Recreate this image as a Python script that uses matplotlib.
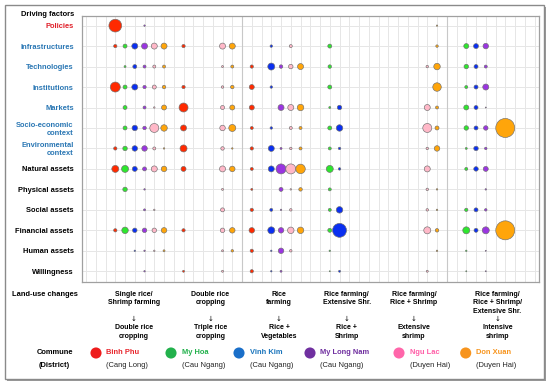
import numpy as np
import matplotlib
matplotlib.use("Agg")
from matplotlib import pyplot as plt
from matplotlib.patches import Rectangle

# driving factors (rows) and land-use changes (column groups)
factors = ["Policies", "Infrastructures", "Technologies", "Institutions", "Markets",
           "Socio-economic\ncontext", "Environmental\ncontext", "Natural assets",
           "Physical assets", "Social assets", "Financial assets", "Human assets",
           "Willingness"]
n_blue_factors = 6  # Infrastructures .. Environmental context drawn in blue

changes_from = ["Single rice/\nShrimp farming", "Double rice\ncropping", "Rice\nfarming",
                "Rice farming/\nExtensive Shr.", "Rice farming/\nRice + Shrimp",
                "Rice farming/\nRice + Shrimp/\nExtensive Shr."]
changes_to = ["Double rice\ncropping", "Triple rice\ncropping", "Rice +\nVegetables",
              "Rice +\nShrimp", "Extensive\nshrimp", "Intensive\nshrimp"]

communes = ["Binh Phu", "My Hoa", "Vinh Kim", "My Long Nam", "Ngu Lac", "Don Xuan"]
districts = ["(Cang Long)", "(Cau Ngang)", "(Cau Ngang)", "(Cau Ngang)", "(Duyen Hai)", "(Duyen Hai)"]

# share of mentions (%), rows = factors, cols = land-use changes 1..6
binh_phu = [
    [45, 0, 0, 0, 0, 0],
    [3, 3, 0, 0, 0, 0],
    [0, 0, 3, 0, 0, 0],
    [27.7, 3, 6.9, 0, 0, 0],
    [0, 22.4, 6.9, 0, 0, 0],
    [0, 10, 2.5, 0, 0, 0],
    [3, 13.6, 3, 0, 0, 0],
    [13.6, 6.9, 2.5, 0, 0, 0],
    [0, 0, 1.1, 0, 0, 0],
    [0, 0, 3, 0, 0, 0],
    [3, 3, 8.4, 0, 0, 0],
    [0, 0, 3, 0, 0, 0],
    [0, 1.1, 3, 0, 0, 0],
]
my_hoa = [
    [0, 0, 0, 0, 0, 0],
    [4.4, 0, 0, 4.4, 0, 6.9],
    [1.1, 0, 0, 3.4, 0, 5.6],
    [4.4, 0, 0, 4.4, 0, 2.5],
    [4.4, 0, 0, 1.1, 0, 6.9],
    [4.4, 0, 0, 4.4, 0, 5.6],
    [5.6, 0, 0, 2.5, 0, 1.1],
    [13.6, 0, 0, 13.6, 0, 2.5],
    [5.6, 0, 0, 2.5, 0, 0],
    [0, 0, 0, 2.5, 0, 3],
    [11.7, 0, 0, 4.4, 0, 13.6],
    [0, 0, 0, 0.6, 0, 0.6],
    [0, 0, 0, 0.3, 0, 0.3],
]
vinh_kim = [
    [0, 0, 0, 0, 0, 0],
    [10, 0, 1.7, 0, 0, 6.9],
    [4.4, 0, 13.6, 0, 0, 4.4],
    [10, 0, 1.7, 0, 0, 4.4],
    [0, 0, 0, 5.6, 0, 4.4],
    [8.4, 0, 1.7, 11.7, 0, 4.4],
    [8.4, 0, 10, 1.7, 0, 5.6],
    [6.9, 0, 10, 1.7, 0, 5.6],
    [0, 0, 0, 0, 0, 0],
    [0, 0, 2.5, 11.7, 0, 4.4],
    [5.6, 0, 13.6, 54, 0, 4.4],
    [0.6, 0, 0.6, 0, 0, 0],
    [0, 0, 0.6, 1.1, 0, 0],
]
my_long_nam = [
    [0.6, 0, 0, 0, 0, 0],
    [10, 0, 0, 0, 0, 8.4],
    [2.5, 0, 3.4, 0, 0, 2.5],
    [3, 0, 0, 0, 0, 10],
    [2.5, 0, 10, 0, 0, 0.3],
    [3.4, 0, 0, 0, 0, 5.6],
    [8.4, 0, 1.1, 0, 0, 1.7],
    [4.4, 0, 27.7, 0, 0, 6.9],
    [0.6, 0, 4.4, 0, 0, 0.6],
    [1.1, 0, 0.6, 0, 0, 1.7],
    [5.6, 0, 8.4, 0, 0, 13.6],
    [0.6, 0, 8.4, 0, 0, 0.3],
    [0.6, 0, 1.1, 0, 0, 0.3],
]
ngu_lac = [
    [0, 0, 0, 0, 0, 0],
    [10, 10, 2.5, 0, 0, 0],
    [2.5, 1.1, 5.6, 0, 1.7, 0],
    [4.4, 1.7, 0, 0, 0, 0],
    [0.6, 4.4, 10, 0, 10, 0],
    [22.4, 8.4, 2.5, 0, 22.4, 0],
    [2.5, 3.4, 1.7, 0, 1.7, 0],
    [10, 10, 27.7, 0, 10, 0],
    [0, 1.1, 0.6, 0, 1.7, 0],
    [0.6, 4.4, 1.7, 0, 1.7, 0],
    [5.6, 5.6, 11.7, 0, 13.6, 0],
    [0.6, 1.1, 1.7, 0, 0, 0],
    [0, 1.1, 0, 0, 1.1, 0],
]
don_xuan = [
    [0, 0, 0, 0, 0.5, 0],
    [10, 10, 0, 0, 1.7, 0],
    [2.5, 2.5, 10, 0, 11.7, 0],
    [3.4, 3.4, 0, 0, 20, 0],
    [6.9, 6.9, 11.7, 0, 2.5, 0],
    [11.7, 13.6, 2.5, 0, 4.4, 100],
    [0.6, 0.6, 2.5, 0, 8.4, 0],
    [8.4, 8.4, 25, 0, 0, 0],
    [0, 0, 3.4, 0, 0.6, 0],
    [0, 0, 0, 0, 0.6, 0],
    [8.4, 8.4, 11.7, 0, 3.4, 100],
    [1.1, 1.7, 0, 0, 0.6, 0],
    [0, 0, 0, 0, 0, 0],
]
commune_data = [binh_phu, my_hoa, vinh_kim, my_long_nam, ngu_lac, don_xuan]

bubble_colors = ["#ff2a00", "#2ee62e", "#0a2ff0", "#9a35e0", "#ffb8c8", "#ffa50a"]
legend_colors = ["#ee1c1c", "#22b14c", "#1a6fc9", "#7030a0", "#ff66aa", "#f7941d"]
text_colors = ["#e8262d", "#22b14c", "#1b75bc", "#7030a0", "#ff5fa8", "#f7941d"]

plt.rcParams["font.family"] = ["Liberation Sans", "DejaVu Sans"]

W, H = 550, 385
fig = plt.figure(figsize=(W / 100, H / 100), dpi=100)

# full-figure overlay in pixel coords for frame, headers and legend
bg = fig.add_axes([0, 0, 1, 1], zorder=0)
bg.set_xlim(0, W)
bg.set_ylim(H, 0)
bg.axis("off")
bg.add_patch(Rectangle((6.5, 6.5), 539, 374, facecolor="#9a9a9a", edgecolor="none"))
bg.add_patch(Rectangle((5, 5), 539, 374, facecolor="white", edgecolor="#8a8a8a", lw=1.0))

# main bubble axes
x_left, x_right, y_top, y_bot = 82, 539, 16, 281.5
ax = fig.add_axes([x_left / W, 1 - y_bot / H, (x_right - x_left) / W, (y_bot - y_top) / H], zorder=1)
ncols = len(communes)
step = ncols + 1
ax.set_xlim(-2.415, 44.46)
ax.set_ylim(len(factors) - 0.5, -0.47)

scale = 1.87  # marker area (pt^2) per percent
for c, data in enumerate(commune_data):
    vals = np.array(data, dtype=float)
    rows, groups = np.nonzero(vals)
    xs = groups * step + c + 1
    ax.scatter(xs, rows, s=vals[rows, groups] * scale, color=bubble_colors[c],
               edgecolor="#707070", linewidth=0.45, zorder=3)

ax.set_xticks(np.arange(-2, 45))
ax.set_yticks(np.arange(len(factors)))
ax.set_yticklabels(factors, fontsize=5.4, fontweight="bold")
for i, lab in enumerate(ax.get_yticklabels()):
    if i == 0:
        lab.set_color("#e0202a")
    elif i <= n_blue_factors:
        lab.set_color("#2a77b4")
    else:
        lab.set_color("black")
ax.tick_params(axis="both", length=0, labelbottom=False, pad=6)
ax.grid(True, color="#e6e6e6", linewidth=0.7, zorder=0)
ax.set_axisbelow(True)
for xv in (2 * step, 5 * step):
    ax.axvline(xv, color="#c8c8c8", linewidth=0.8, zorder=1)
for sp in ax.spines.values():
    sp.set_color("#a0a0a0")
    sp.set_linewidth(0.9)

bg.text(74, 15, "Driving factors", ha="right", va="center", fontsize=5.4, fontweight="bold")

# land-use change headers
bg.text(45, 295, "Land-use changes", ha="center", va="center", fontsize=5.4, fontweight="bold")
label_x = [134, 210.5, 279, 346.8, 414, 497.6]
for lx, top, bottom in zip(label_x, changes_from, changes_to):
    for i, line in enumerate(top.split("\n")):
        bg.text(lx, 294 + i * 8.6, line, ha="center", va="center", fontsize=5.0, fontweight="bold")
    bg.text(lx, 318.5, "\u2193", ha="center", va="center", fontsize=5.0, family="DejaVu Sans")
    for i, line in enumerate(bottom.split("\n")):
        bg.text(lx, 327.7 + i * 8.6, line, ha="center", va="center", fontsize=5.0, fontweight="bold")

# commune legend
bg.text(54.7, 353, "Commune", ha="center", va="center", fontsize=5.4, fontweight="bold")
bg.text(54.7, 365.7, "(District)", ha="center", va="center", fontsize=5.4, fontweight="bold")
legend_x = [96, 171, 239, 310, 399, 465.7]
for lx, name, dist, lc, tc in zip(legend_x, communes, districts, legend_colors, text_colors):
    bg.scatter([lx], [353], s=64, color=lc, edgecolor="none")
    bg.text(lx + 10.5, 353, name, ha="left", va="center", fontsize=5.4, fontweight="bold", color=tc)
    bg.text(lx + 10.5, 365.7, dist, ha="left", va="center", fontsize=5.4, color="#222222")

fig.savefig("out.png", dpi=100)
